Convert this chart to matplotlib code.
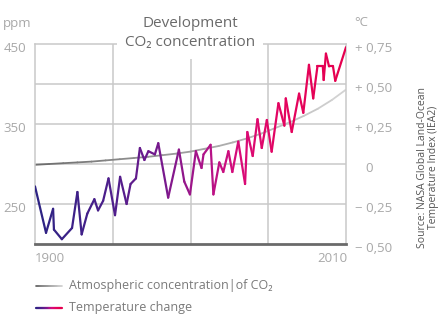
import numpy as np
import matplotlib
matplotlib.use("Agg")
import matplotlib.pyplot as plt
from matplotlib.collections import LineCollection
from matplotlib.colors import LinearSegmentedColormap
import matplotlib.transforms as mtrans

plt.rcParams['font.family'] = ['Open Sans', 'DejaVu Sans']

# ---- data ----
temp_years = [1900.0, 1903.9, 1906.4, 1906.7, 1909.5, 1913.1, 1915.0, 1916.5, 1918.5, 1921.0,
              1922.3, 1924.1, 1926.0, 1928.3, 1930.1, 1932.4, 1933.8, 1935.7, 1937.1, 1938.7,
              1940.1, 1942.4, 1943.6, 1947.1, 1950.9, 1952.8, 1954.8, 1956.9, 1958.9, 1959.6,
              1962.1, 1963.1, 1965.2, 1966.6, 1968.4, 1969.8, 1971.9, 1974.3, 1975.1, 1977.0,
              1978.7, 1980.2, 1982.0, 1983.7, 1986.1, 1988.2, 1988.7, 1990.8, 1993.4, 1994.9,
              1996.9, 1998.4, 1999.9, 2001.8, 2002.1, 2002.9, 2004.0, 2005.4, 2006.2, 2010.0]
temp_change = [-0.14, -0.43, -0.28, -0.41, -0.47, -0.40, -0.175, -0.44, -0.31, -0.22,
               -0.29, -0.23, -0.09, -0.32, -0.08, -0.25, -0.125, -0.09, 0.10, 0.025,
               0.08, 0.06, 0.13, -0.21, 0.09, -0.11, -0.19, 0.08, -0.025, 0.06,
               0.12, -0.19, 0.01, -0.05, 0.08, -0.05, 0.14, -0.125, 0.20, 0.05,
               0.28, 0.10, 0.275, 0.077, 0.38, 0.24, 0.41, 0.20, 0.44, 0.32,
               0.62, 0.41, 0.61, 0.61, 0.525, 0.69, 0.61, 0.61, 0.52, 0.73]

co2_years = [1900, 1905, 1910, 1915, 1920, 1925, 1930, 1935, 1940, 1945, 1950, 1955,
             1960, 1965, 1970, 1975, 1980, 1985, 1990, 1995, 2000, 2005, 2010]
co2_ppm = [299, 300, 301, 302, 303, 304.5, 306, 307.5, 309, 311, 313, 315.5,
           319, 322.5, 327, 332, 338, 345, 352, 360, 369, 380, 393]

ppm_ticks = [450, 350, 250]
ppm_labels = ["450", "350", "250"]
temp_ticks = [0.75, 0.50, 0.25, 0.0, -0.25, -0.50]
temp_labels = ["+ 0,75", "+ 0,50", "+ 0,25", "0", "− 0,25", "− 0,50"]
x_labels = ["1900", "2010"]

GRID = '#c9c9c9'
LABEL = '#a8a8a8'

temp_cmap = LinearSegmentedColormap.from_list(
    't', [(0, '#2c2383'), (0.25, '#4e1e8c'), (0.42, '#7a198d'), (0.55, '#b01389'),
          (0.65, '#d80c7a'), (0.8, '#e4045f'), (1, '#e6004e')])
co2_cmap = LinearSegmentedColormap.from_list('c', [(0, '#6c6c6c'), (1, '#d4d4d4')])


def gradient_line(axis, x, y, cmap, lw, x0=1900, x1=2010):
    x = np.asarray(x, float)
    y = np.asarray(y, float)
    pts = np.column_stack([x, y]).reshape(-1, 1, 2)
    segs = np.concatenate([pts[:-1], pts[1:]], axis=1)
    mids = (x[:-1] + x[1:]) / 2
    lc = LineCollection(segs, colors=cmap((mids - x0) / (x1 - x0)), linewidths=lw,
                        capstyle='round', joinstyle='round')
    axis.add_collection(lc)
    return lc


W, H = 446, 322
fig = plt.figure(figsize=(W / 100, H / 100), dpi=100)
L, R, T, B = 35, 346, 44, 244
ax = fig.add_axes([L / W, 1 - B / H, (R - L) / W, (B - T) / H])
ax.set_xlim(1900, 2010)
ax.set_ylim(200, 450)
ax2 = ax.twinx()
ax2.set_ylim(-0.5, 0.75)
ax2.set_xlim(1900, 2010)
for a in (ax, ax2):
    a.set_xticks([])
    a.set_yticks([])
for s in ['left', 'right', 'top']:
    ax.spines[s].set_color(GRID)
    ax.spines[s].set_linewidth(1.1)
ax.spines['bottom'].set_color('#6a6a6a')
ax.spines['bottom'].set_linewidth(2.0)
for s in ax2.spines.values():
    s.set_visible(False)

for v in [250, 300, 350, 400]:
    ax.axhline(v, color=GRID, lw=1.1, zorder=1)
for yr in [1927.5, 1955, 1982.5]:
    ax.axvline(yr, color=GRID, lw=1.1, zorder=1)

gradient_line(ax, co2_years, co2_ppm, co2_cmap, 1.3)
gradient_line(ax2, temp_years, temp_change, temp_cmap, 1.6)

# ---- tick labels ----
tl = mtrans.blended_transform_factory(ax.transAxes, ax.transData)
tl = mtrans.offset_copy(tl, fig=fig, x=0, y=-4, units='dots')
for v, s in zip(ppm_ticks, ppm_labels):
    ax.text(-9 / (R - L), v, s, transform=tl, ha='right', va='center',
            fontsize=9.5, color=LABEL)
tr = mtrans.blended_transform_factory(ax2.transAxes, ax2.transData)
tr = mtrans.offset_copy(tr, fig=fig, x=0, y=-4, units='dots')
for v, s in zip(temp_ticks, temp_labels):
    xo = (355 - L) / (R - L) if s != "0" else (365 - L) / (R - L)
    ax2.text(xo, v, s, transform=tr, ha='left', va='center', fontsize=9.5, color=LABEL)

# ---- overlay in pixel coordinates ----
ov = fig.add_axes([0, 0, 1, 1])
ov.set_xlim(0, W)
ov.set_ylim(H, 0)
ov.axis('off')
ov.patch.set_alpha(0)

ov.text(190, 33, "Development\nCO₂ concentration", ha='center', va='center',
        fontsize=11, color='#6a6a6a', linespacing=1.45,
        bbox=dict(facecolor='white', edgecolor='none', pad=6))
ov.text(3, 23, "ppm", ha='left', va='center', fontsize=9.5, color=LABEL)
ov.text(354, 22, "°C", ha='left', va='center', fontsize=9.5, color=LABEL)
ov.text(35, 258, x_labels[0], ha='left', va='center', fontsize=9.5, color=LABEL)
ov.text(347, 258, x_labels[1], ha='right', va='center', fontsize=9.5, color=LABEL)

ov.text(428, 248, "Source: NASA Global Land-Ocean\nTemperature Index (IEA2)", rotation=90,
        ha='center', va='bottom', fontsize=7.5, color='#555555', linespacing=1.0)

# legend
lx = np.linspace(36, 62, 30)
gradient_line(ov, lx, np.full_like(lx, 286), co2_cmap, 1.3, x0=36, x1=62)
gradient_line(ov, lx, np.full_like(lx, 308), temp_cmap, 1.6, x0=36, x1=62)
ov.text(69, 286, "Atmospheric concentration|of CO₂", ha='left', va='center',
        fontsize=9, color='#7a7a7a')
ov.text(69, 308, "Temperature change", ha='left', va='center', fontsize=9, color='#7a7a7a')

fig.savefig("out.png", dpi=100, facecolor='white')
